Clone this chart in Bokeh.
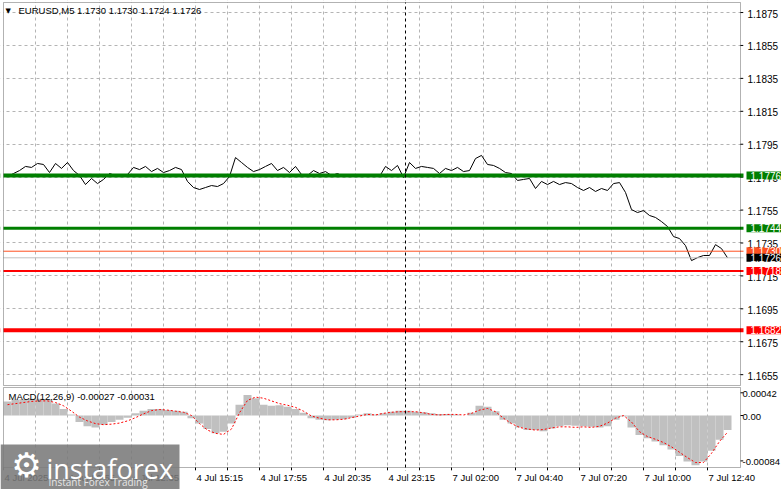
from bokeh.plotting import figure
from bokeh.models import Range1d, FixedTicker, Span, Label, BoxAnnotation
from bokeh.layouts import column
from bokeh.embed import file_html
from bokeh.resources import INLINE

# ---------------- data ----------------
title_text = "EURUSD,M5  1.1730 1.1730 1.1724 1.1726"
macd_text = "MACD(12,26,9) -0.00027 -0.00031"

close_bars = list(range(2, 363, 3))
closes = [
    1.17754, 1.17772, 1.17790, 1.17815, 1.17809, 1.17833, 1.17827, 1.17778, 1.17833, 1.17803,
    1.17839, 1.17790, 1.17760, 1.17705, 1.17742, 1.17711, 1.17736, 1.17772, 1.17760, 1.17754,
    1.17766, 1.17809, 1.17796, 1.17815, 1.17784, 1.17803, 1.17778, 1.17790, 1.17809, 1.17796,
    1.17724, 1.17687, 1.17675, 1.17687, 1.17699, 1.17693, 1.17711, 1.17754, 1.17869, 1.17839,
    1.17809, 1.17784, 1.17796, 1.17815, 1.17833, 1.17790, 1.17809, 1.17778, 1.17815, 1.17766,
    1.17760, 1.17790, 1.17772, 1.17784, 1.17760, 1.17772, 1.17754, 1.17760, 1.17754, 1.17766,
    1.17760, 1.17760, 1.17754, 1.17815, 1.17790, 1.17821, 1.17748, 1.17839, 1.17803, 1.17815,
    1.17809, 1.17803, 1.17772, 1.17803, 1.17790, 1.17809, 1.17784, 1.17790, 1.17863, 1.17882,
    1.17827, 1.17821, 1.17803, 1.17778, 1.17772, 1.17730, 1.17736, 1.17742, 1.17681, 1.17724,
    1.17705, 1.17724, 1.17705, 1.17717, 1.17711, 1.17687, 1.17669, 1.17687, 1.17663, 1.17681,
    1.17669, 1.17711, 1.17717, 1.17657, 1.17553, 1.17535, 1.17547, 1.17517, 1.17505, 1.17480,
    1.17450, 1.17389, 1.17377, 1.17334, 1.17243, 1.17261, 1.17274, 1.17274, 1.17340, 1.17316,
    1.17260,
]

price_ticks = [1.1655, 1.1675, 1.1695, 1.1715, 1.1735, 1.1755,
               1.1775, 1.1795, 1.1815, 1.1835, 1.1855, 1.1875]

levels = [1.1776, 1.1744, 1.1718, 1.1682]
level_colors = ["#007f00", "#007f00", "#ff0000", "#ff0000"]
level_widths = [4, 3, 2, 4]
ask_price = 1.1730
bid_price = 1.1726

time_label_bars = [0, 32, 64, 96, 128, 160, 192, 224, 256, 288, 320, 352]
time_labels = ["4 Jul 2025", "4 Jul 09:55", "4 Jul 12:35", "4 Jul 15:15", "4 Jul 17:55",
               "4 Jul 20:35", "4 Jul 23:15", "7 Jul 02:00", "7 Jul 04:40", "7 Jul 07:20",
               "7 Jul 10:00", "7 Jul 12:40"]
grid_bars = list(range(16, 368, 16))
separator_bar = 201

macd_bars = list(range(2, 363, 4))
macd_hist_e5 = [
    26, 29, 30, 31, 31, 30, 22, 12, 2, -12,
    -20, -22, -17, -12, -8, -4, 4, 9, 12, 12,
    10, 9, 7, -5, -15, -25, -33, -30, -15, 20,
    38, 32, 20, 18, 19, 16, 12, 5, -5, -8,
    -9, -8, -7, -4, 2, 4, 2, 4, 7, 9,
    9, 7, 6, 4, 3, 3, 2, 0, 5, 18,
    16, 8, -8, -15, -22, -27, -27, -29, -24, -20,
    -18, -19, -20, -21, -22, -20, -8, -2, -22, -36,
    -42, -48, -55, -63, -75, -85, -92, -85, -65, -45,
    -27,
]
macd_signal_e5 = [
    20, 22, 24, 26, 27, 27, 24, 18, 8, -3,
    -10, -15, -17, -16, -14, -10, -4, 3, 9, 11,
    10, 8, 6, 0, -15, -27, -33, -35, -25, 5,
    28, 34, 32, 27, 22, 19, 15, 8, -1, -5,
    -8, -8, -7, -4, -1, 2, 1, 4, 6, 7,
    7, 7, 5, 2, 1, 2, 2, 1, 4, 10,
    13, 7, -5, -15, -22, -25, -27, -26, -23, -21,
    -21, -22, -21, -22, -20, -14, -5, 0, -12, -30,
    -39, -44, -50, -58, -68, -78, -87, -87, -70, -48,
    -31,
]
macd_ticks = [-0.00084, 0.0, 0.00042]
macd_tick_labels = ["-0.00084", "0.00", "0.00042"]

macd_hist = [v * 1e-5 for v in macd_hist_e5]
macd_signal = [v * 1e-5 for v in macd_signal_e5]

# ---------------- layout helpers (pixel -> data) ----------------
FONT = "Liberation Sans"
GRID = "#b4b4b4"
W = 781
H1 = 386
H2 = 103


def bx(px):          # page x -> bar coordinate (2 px per bar, bar 0 at x=3)
    return (px - 3) / 2.0


def py_main(py):     # page y -> price
    return 1.1776 - (py - 175) / 16460.0


def py_macd(py):     # page y (absolute) -> macd value
    return (415 - py) * 1.85e-5


CH_L, CH_R = bx(3), bx(740)
xr = Range1d(bx(0), bx(W))


def base_fig(height, yr):
    p = figure(width=W, height=height, x_range=xr, y_range=yr,
               output_backend="svg", toolbar_location=None,
               x_axis_location=None, y_axis_location=None,
               min_border_left=0, min_border_right=0, min_border_top=0, min_border_bottom=0)
    p.outline_line_color = None
    p.background_fill_color = "white"
    p.border_fill_color = "white"
    p.xgrid.ticker = FixedTicker(ticks=grid_bars)
    p.xgrid.grid_line_color = GRID
    p.xgrid.grid_line_dash = "3 3"
    return p


def covers(p, top, bottom, bottom_gap=None):
    kw = dict(fill_color="white", fill_alpha=1.0, line_color=None)
    p.add_layout(BoxAnnotation(right=CH_L, **kw))
    p.add_layout(BoxAnnotation(left=bx(743), **kw))
    p.add_layout(BoxAnnotation(bottom=top, **kw))
    p.add_layout(BoxAnnotation(top=bottom if bottom_gap is None else bottom_gap, **kw))
    p.add_layout(BoxAnnotation(left=CH_L, right=CH_R, top=top, bottom=bottom,
                               fill_alpha=0, line_color="black", line_width=1))


# ---------------- main price panel ----------------
m_top, m_bot = py_main(2), py_main(385)
p1 = base_fig(H1, Range1d(py_main(H1), py_main(0)))
p1.ygrid.ticker = FixedTicker(ticks=price_ticks)
p1.ygrid.grid_line_color = GRID
p1.ygrid.grid_line_dash = "3 3"

p1.segment(x0=[CH_R] * len(price_ticks), x1=[bx(743)] * len(price_ticks),
           y0=price_ticks, y1=price_ticks, line_color="black", line_width=1)

p1.add_layout(Span(location=bid_price, dimension="width", line_color="#c0c0c0", line_width=1))
p1.add_layout(Span(location=ask_price, dimension="width", line_color="#ff5020", line_width=1))
p1.line(close_bars, closes, line_color="black", line_width=1)
for lev, col, w in zip(levels, level_colors, level_widths):
    p1.add_layout(Span(location=lev, dimension="width", line_color=col, line_width=w))
p1.add_layout(Span(location=separator_bar, dimension="height", line_color="black",
                   line_dash="3 3", line_width=1))

covers(p1, m_top, m_bot)

for t in price_ticks:
    p1.add_layout(Label(x=747, y=t, x_units="screen", y_units="data", text=f"{t:.4f}",
                        text_align="left", text_baseline="middle", text_font=FONT,
                        text_font_size="10px", text_color="black", y_offset=-1))

tags = [(ask_price, "#ff5020"), (levels[0], level_colors[0]), (levels[1], level_colors[1]),
        (bid_price, "black"), (levels[2], level_colors[2]), (levels[3], level_colors[3])]
for lev, col in tags:
    p1.add_layout(Label(x=746, y=lev, x_units="screen", y_units="data",
                        text=f"{lev:.4f}", text_align="left", text_baseline="middle",
                        text_font=FONT, text_font_size="10px", text_color="white",
                        background_fill_color=col, background_fill_alpha=1.0,
                        padding=(4, 0)))

p1.add_layout(Label(x=5, y=H1 - 10, x_units="screen", y_units="screen", text="\u25bc",
                    text_font="DejaVu Sans", text_font_size="7px", text_baseline="middle",
                    text_color="black"))
p1.add_layout(Label(x=18, y=H1 - 10, x_units="screen", y_units="screen", text=title_text,
                    text_font=FONT, text_font_size="9.5px", text_baseline="middle",
                    text_color="black"))

# ---------------- MACD panel ----------------
d_top, d_bot = py_macd(387), py_macd(467)
p2 = base_fig(H2, Range1d(py_macd(H1 + H2), py_macd(H1)))
p2.ygrid.visible = False

p2.segment(x0=[CH_R] * len(macd_ticks), x1=[bx(743)] * len(macd_ticks),
           y0=macd_ticks, y1=macd_ticks, line_color="black", line_width=1)
p2.segment(x0=[0] + grid_bars, x1=[0] + grid_bars,
           y0=[d_bot] * (len(grid_bars) + 1), y1=[py_macd(470)] * (len(grid_bars) + 1),
           line_color="black", line_width=1)

p2.vbar(x=macd_bars, top=macd_hist, bottom=0, width=4, fill_color="#c0c0c0", line_color=None)
p2.line(macd_bars, macd_signal, line_color="red", line_dash="2 2", line_width=1)
p2.add_layout(Span(location=separator_bar, dimension="height", line_color="black",
                   line_dash="3 3", line_width=1))

covers(p2, d_top, d_bot, bottom_gap=py_macd(470))

for t, lbl in zip(macd_ticks, macd_tick_labels):
    p2.add_layout(Label(x=742, y=t, x_units="screen", y_units="data", text=lbl,
                        text_align="left", text_baseline="middle", text_font=FONT,
                        text_font_size="9.5px", text_color="black", y_offset=-1))

for b, lbl in zip(time_label_bars, time_labels):
    p2.add_layout(Label(x=b, y=py_macd(477), x_units="data", y_units="data", text=lbl,
                        text_align="left", text_baseline="middle", text_font=FONT,
                        text_font_size="9.5px", text_color="black", x_offset=1))

p2.add_layout(Label(x=8, y=H2 - 10, x_units="screen", y_units="screen", text=macd_text,
                    text_font=FONT, text_font_size="9.5px", text_baseline="middle",
                    text_color="black"))

# watermark
p2.add_layout(BoxAnnotation(right=bx(179), top=py_macd(444), fill_color="#7a7a7a",
                            fill_alpha=0.88, line_color=None))
p2.add_layout(Label(x=26, y=H2 - 78, x_units="screen", y_units="screen", text="\u2699",
                    text_font="DejaVu Sans", text_font_size="34px", text_align="center",
                    text_baseline="middle", text_color="white"))
p2.add_layout(Label(x=46, y=H2 - 82, x_units="screen", y_units="screen", text="instaforex",
                    text_font="Open Sans", text_font_size="27px", text_baseline="alphabetic",
                    text_color="white"))
p2.add_layout(Label(x=48, y=H2 - 95, x_units="screen", y_units="screen",
                    text="Instant Forex Trading", text_font="Open Sans",
                    text_font_size="10px", text_baseline="alphabetic", text_color="#e6e6e6"))

layout = column(p1, p2)
open("out.html", "w").write(file_html(layout, INLINE))
